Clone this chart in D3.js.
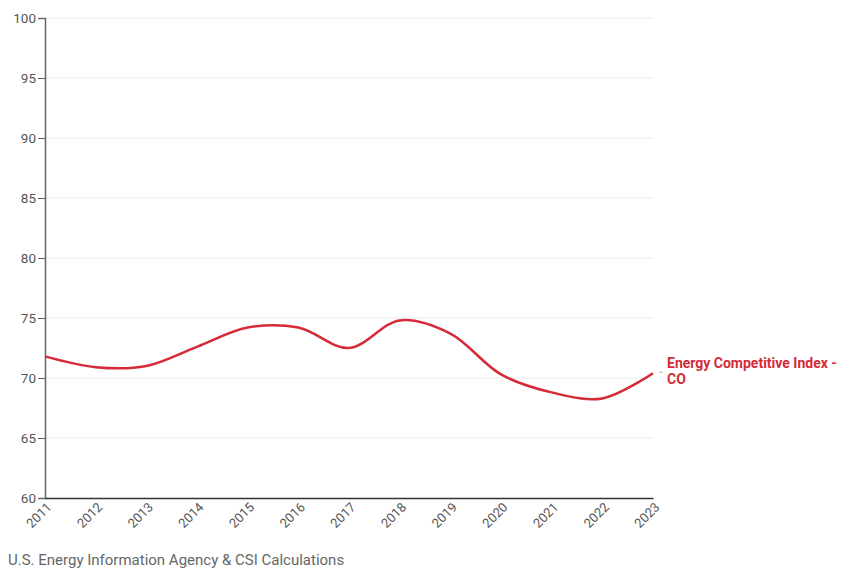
<!DOCTYPE html>
<html>
<head>
<meta charset="utf-8">
<script src="https://cdn.jsdelivr.net/npm/d3@7"></script>
<style>
  body { margin: 0; background: #fff; font-family: Roboto, sans-serif; }
</style>
</head>
<body>
<div id="container"></div>
<script>
const years = [2011, 2012, 2013, 2014, 2015, 2016, 2017, 2018, 2019, 2020, 2021, 2022, 2023];
const values = [71.8, 70.9, 71.0, 72.6, 74.2, 74.2, 72.5, 74.8, 73.7, 70.3, 68.8, 68.3, 70.4];
const yTicks = [60, 65, 70, 75, 80, 85, 90, 95, 100];
const seriesName = ["Energy Competitive Index -", "CO"];
const sourceText = "U.S. Energy Information Agency & CSI Calculations";

const w = 858;
const h = 570;
const m = { top: 18, left: 45, right: 205, bottom: 72 };
const red = "#d52b37";

const svg = d3.select("#container")
    .append("svg")
    .attr("width", w)
    .attr("height", h)

const x = d3.scaleLinear()
    .domain([2011, 2023])
    .range([m.left, w - m.right])

const y = d3.scaleLinear()
    .domain([60, 100])
    .range([h - m.bottom, m.top])

// grid
svg.append("g")
    .selectAll("line")
    .data(yTicks.slice(1))
    .enter().append("line")
    .attr("x1", m.left)
    .attr("x2", w - m.right)
    .attr("y1", (d) => y(d))
    .attr("y2", (d) => y(d))
    .attr("stroke", "#ececec")
    .attr("stroke-width", 1)

// y axis
const yAxis = svg.append("g")
    .attr("transform", `translate(${m.left},0)`)
    .call(d3.axisLeft(y).tickValues(yTicks).tickSize(7).tickPadding(2))
yAxis.select(".domain").attr("stroke", "#666").attr("stroke-width", 1.5)
yAxis.selectAll(".tick line").attr("stroke", "#666")
yAxis.selectAll("text")
    .attr("fill", "#555")
    .style("font-size", "13.5px")
    .style("font-family", "Roboto, sans-serif")

// x axis
const xAxis = svg.append("g")
    .attr("transform", `translate(0,${h - m.bottom})`)
    .call(d3.axisBottom(x).tickValues(years).tickFormat(d3.format("d")).tickSize(0).tickSizeOuter(0))
xAxis.select(".domain").attr("stroke", "#333").attr("stroke-width", 1.5)
xAxis.selectAll("text")
    .attr("fill", "#555")
    .style("font-size", "13px")
    .style("font-family", "Roboto, sans-serif")
    .attr("text-anchor", "end")
    .attr("dy", null)
    .attr("y", 0)
    .attr("transform", "translate(7,10) rotate(-45)")

// line
const line = d3.line()
    .x((d, i) => x(years[i]))
    .y((d) => y(d))
    .curve(d3.curveCatmullRom)

svg.append("path")
    .datum(values)
    .attr("d", line)
    .attr("fill", "none")
    .attr("stroke", red)
    .attr("stroke-width", 2.5)

// series label
const last = values[values.length - 1];
svg.append("line")
    .attr("x1", x(2023) + 6)
    .attr("x2", x(2023) + 10)
    .attr("y1", y(last) - 1)
    .attr("y2", y(last) - 1)
    .attr("stroke", "#bbb")

svg.append("text")
    .attr("y", y(last) - 5)
    .attr("fill", red)
    .style("font-size", "14px")
    .style("font-weight", "bold")
    .style("font-family", "Roboto, sans-serif")
    .selectAll("tspan")
    .data(seriesName)
    .enter().append("tspan")
    .attr("x", x(2023) + 14)
    .attr("dy", (d, i) => i === 0 ? 0 : 16)
    .text((d) => d)

// source
svg.append("text")
    .attr("x", 8)
    .attr("y", 565)
    .attr("fill", "#666")
    .style("font-size", "15px")
    .style("font-family", "Roboto, sans-serif")
    .text(sourceText)
</script>
</body>
</html>
